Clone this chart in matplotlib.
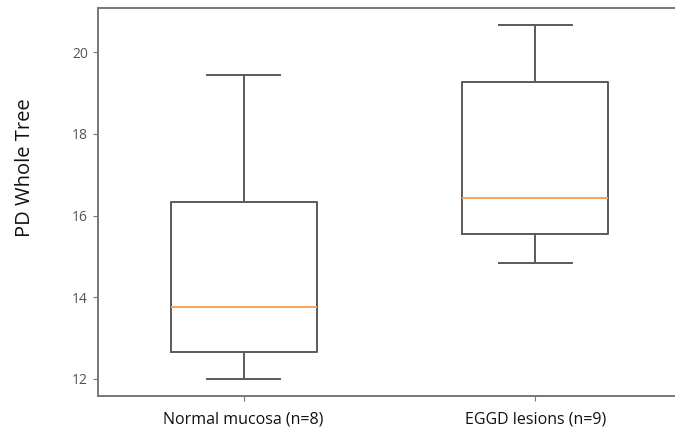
import matplotlib
matplotlib.use("Agg")
import matplotlib.pyplot as plt

# five-number summaries per group: (whislo, q1, med, q3, whishi)
groups = ["Normal mucosa (n=8)", "EGGD lesions (n=9)"]
whislo = [12.00, 14.84]
q1 = [12.65, 15.54]
med = [13.77, 16.42]
q3 = [16.34, 19.27]
whishi = [19.44, 20.66]
yticks = [12, 14, 16, 18, 20]

stats = [
    dict(label=g, whislo=lo, q1=a, med=m, q3=b, whishi=hi, fliers=[])
    for g, lo, a, m, b, hi in zip(groups, whislo, q1, med, q3, whishi)
]

plt.rcParams['font.family'] = ['Open Sans', 'DejaVu Sans']

fig = plt.figure(figsize=(6.75, 4.36), dpi=100)
ax = fig.add_axes([0.145, 0.092, 0.864, 0.889])

line = dict(color="#5a5a5a", linewidth=1.4)
ax.bxp(stats, widths=0.5,
       boxprops=line, whiskerprops=line, capprops=line,
       medianprops=dict(color="#f7a25c", linewidth=1.4))

ax.set_xlim(0.5, 2.5)
ax.set_ylim(11.58, 21.08)
ax.set_yticks(yticks)
ax.set_ylabel("PD Whole Tree", fontsize=14.5, color="#111111")
ax.yaxis.set_label_coords(-0.108, 0.59)
ax.tick_params(axis="y", labelsize=10, labelcolor="#555555", color="#777777")
ax.tick_params(axis="x", labelsize=11.5, labelcolor="#111111", color="#777777", pad=8)
for s in ax.spines.values():
    s.set_color("#777777")
    s.set_linewidth(1.4)

fig.savefig("out.png", dpi=100)
